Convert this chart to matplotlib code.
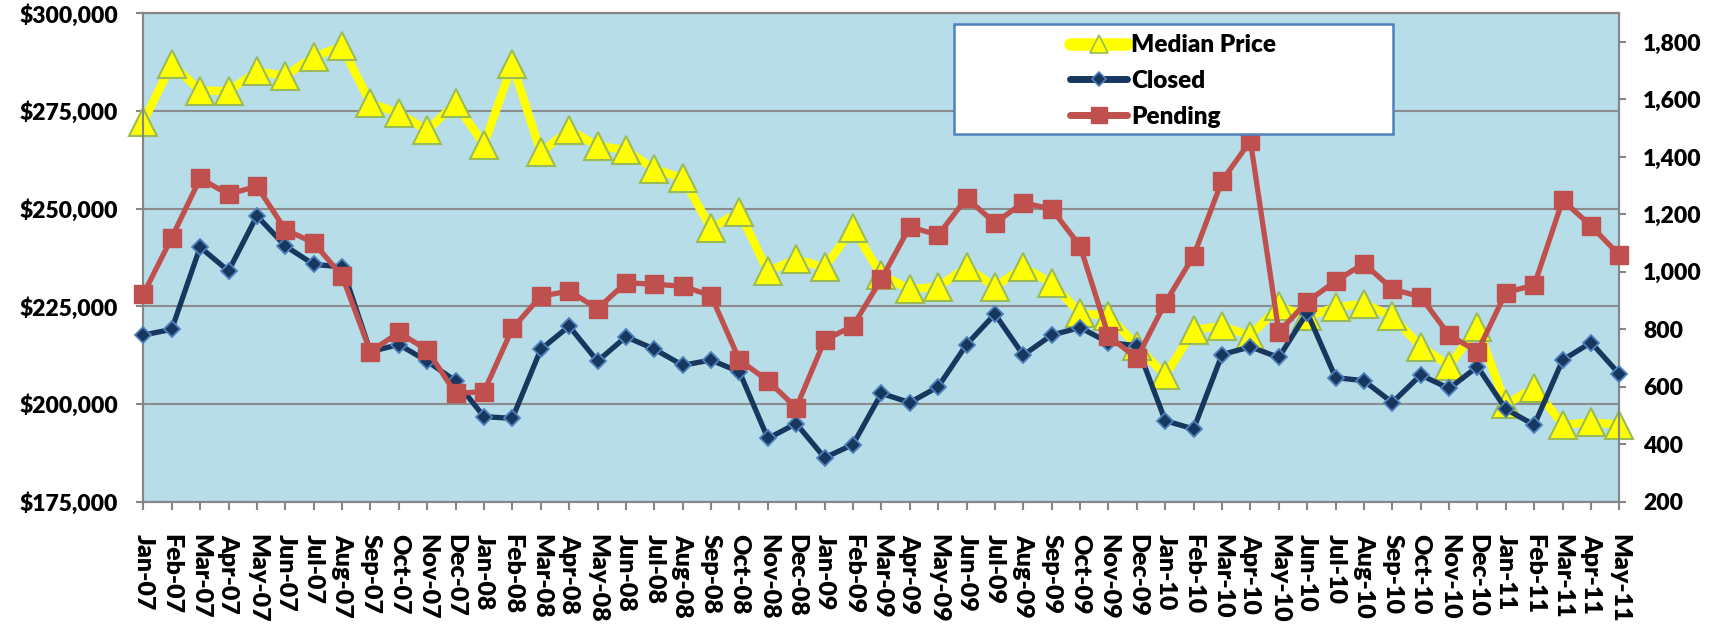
import matplotlib.pyplot as plt
from matplotlib.lines import Line2D
from matplotlib.patches import Rectangle
from matplotlib.ticker import FuncFormatter

plt.rcParams['font.family'] = ['Lato', 'DejaVu Sans']
plt.rcParams['font.weight'] = 'heavy'

months = ['Jan-07', 'Feb-07', 'Mar-07', 'Apr-07', 'May-07', 'Jun-07', 'Jul-07', 'Aug-07',
          'Sep-07', 'Oct-07', 'Nov-07', 'Dec-07',
          'Jan-08', 'Feb-08', 'Mar-08', 'Apr-08', 'May-08', 'Jun-08', 'Jul-08', 'Aug-08',
          'Sep-08', 'Oct-08', 'Nov-08', 'Dec-08',
          'Jan-09', 'Feb-09', 'Mar-09', 'Apr-09', 'May-09', 'Jun-09', 'Jul-09', 'Aug-09',
          'Sep-09', 'Oct-09', 'Nov-09', 'Dec-09',
          'Jan-10', 'Feb-10', 'Mar-10', 'Apr-10', 'May-10', 'Jun-10', 'Jul-10', 'Aug-10',
          'Sep-10', 'Oct-10', 'Nov-10', 'Dec-10',
          'Jan-11', 'Feb-11', 'Mar-11', 'Apr-11', 'May-11']

median_price = [272300, 287000, 280200, 280100, 285100, 284000, 288900, 291500, 277000, 274400, 270000, 277000,
                266400, 287000, 264400, 270100, 266100, 265000, 260100, 257800, 245000, 249100, 234000, 237000,
                235000, 245000, 233000, 229400, 230000, 235000, 230000, 235000, 230900, 223200, 222600, 214900,
                207300, 219000, 219900, 217500, 225000, 222400, 224700, 225700, 222400, 214700, 209800, 219600,
                199900, 204200, 194700, 195300, 194700]

closed = [780, 800, 1086, 1003, 1195, 1090, 1026, 1017, 722, 747, 689, 620,
          496, 490, 730, 811, 689, 774, 731, 675, 693, 652, 420, 472,
          353, 399, 577, 545, 600, 747, 853, 710, 780, 806, 754, 743,
          482, 453, 712, 739, 702, 858, 632, 621, 545, 641, 594, 670,
          522, 467, 693, 754, 644]

pending = [922, 1119, 1325, 1270, 1298, 1147, 1101, 986, 722, 789, 728, 577,
           583, 803, 915, 933, 872, 962, 957, 950, 917, 693, 621, 527,
           762, 812, 975, 1157, 1128, 1257, 1170, 1241, 1218, 1090, 777, 699,
           892, 1056, 1317, 1456, 791, 896, 968, 1029, 940, 913, 780, 722,
           928, 954, 1249, 1160, 1058]

price_ticks = [175000, 200000, 225000, 250000, 275000, 300000]
count_ticks = [200, 400, 600, 800, 1000, 1200, 1400, 1600, 1800]

YELLOW = '#FFFF00'
OLIVE = '#9BBB59'
NAVY = '#17375E'
STEEL = '#4F81BD'
RED = '#C0504D'
GRID = '#8C8C8C'

fig = plt.figure(figsize=(17.25, 6.29), dpi=100)
ax = fig.add_axes([0.0831, 0.2024, 0.8557, 0.7765])
ax.set_facecolor('#B7DDE8')

x = list(range(len(months)))

# median price on the left axis
ax.plot(x, median_price, color=YELLOW, lw=6, marker='^', ms=20,
        mfc=YELLOW, mec=OLIVE, mew=1.5, clip_on=False, zorder=3)
ax.set_xlim(0, len(months) - 1)
ax.set_ylim(175000, 300000)
ax.set_yticks(price_ticks)
ax.yaxis.set_major_formatter(FuncFormatter(lambda v, p: f'${v:,.0f}'))
ax.grid(axis='y', color=GRID, lw=1.5)
ax.set_axisbelow(True)
ax.set_xticks(x)
ax.set_xticklabels(months, rotation=270, ha='center', va='top')

# closed and pending counts on the right axis
ax2 = ax.twinx()
ax2.plot(x, closed, color=NAVY, lw=3.8, marker='D', ms=8.5,
         mfc=NAVY, mec=STEEL, mew=1.3, clip_on=False, zorder=3)
ax2.plot(x, pending, color=RED, lw=3.8, marker='s', ms=13,
         mfc=RED, mec=RED, mew=1, clip_on=False, zorder=4)
ax2.set_ylim(200, 1900)
ax2.set_yticks(count_ticks)
ax2.yaxis.set_major_formatter(FuncFormatter(lambda v, p: f'{v:,.0f}'))

for a in (ax, ax2):
    for s in a.spines.values():
        s.set_color('#868686')
        s.set_linewidth(1.5)

ax.tick_params(axis='x', length=6, width=1.5, color='#868686', pad=17, labelsize=18)
ax.tick_params(axis='y', length=5, width=1.5, color='#868686', pad=13, labelsize=16.5)
ax2.tick_params(axis='y', length=5, width=1.5, color='#868686', pad=12, labelsize=16.5)

# legend box
box = Rectangle((0.5530, 0.7874), 0.2545, 0.1739, transform=fig.transFigure,
                facecolor='white', edgecolor=STEEL, lw=1.8, zorder=6, clip_on=False)
ax2.add_patch(box)

handles = [
    Line2D([], [], color=YELLOW, lw=9, solid_capstyle='round', marker='^', ms=12.5,
           mfc=YELLOW, mec=OLIVE, mew=1.2),
    Line2D([], [], color=NAVY, lw=5, solid_capstyle='round', marker='D', ms=7.5,
           mfc=NAVY, mec=STEEL, mew=1.2),
    Line2D([], [], color=RED, lw=5, solid_capstyle='round', marker='s', ms=12,
           mfc=RED, mec=RED),
]
leg = ax2.legend(handles, ['Median Price', 'Closed', 'Pending'],
                 loc='upper left', bbox_to_anchor=(0.6203, 0.9458),
                 bbox_transform=fig.transFigure, frameon=False,
                 handlelength=2.35, handletextpad=0.15, labelspacing=0.57,
                 borderaxespad=0, borderpad=0, fontsize=17.5)
leg.set_zorder(7)

fig.savefig('out.png', dpi=100)
